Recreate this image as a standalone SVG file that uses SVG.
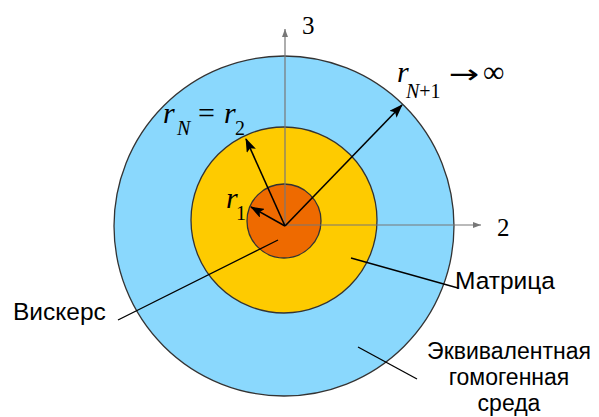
<svg xmlns="http://www.w3.org/2000/svg" width="599" height="417" viewBox="0 0 599 417">
<defs>
<marker id="ah" viewBox="0 0 14 10" refX="13" refY="5" markerWidth="14" markerHeight="10" markerUnits="userSpaceOnUse" orient="auto">
<path d="M0,0 L14,5 L0,10 L3,5 Z" fill="#000"/>
</marker>
<marker id="axh" viewBox="0 0 8 6" refX="8" refY="3" markerWidth="8" markerHeight="6" markerUnits="userSpaceOnUse" orient="auto">
<path d="M0,0 L8,3 L0,6 Z" fill="#777"/>
</marker>
<style>
.ring{stroke:#333;stroke-width:1.3}
.axis{stroke:#777;stroke-width:1.2;fill:none}
.arr{stroke:#000;stroke-width:1.6;fill:none}
.lead{stroke:#000;stroke-width:1.3;fill:none}
.lbl{font-family:"Liberation Sans",Arial,sans-serif;font-size:24.5px;fill:#000}
.lbs{font-size:23px}
.m{font-family:"Liberation Serif","Times New Roman",serif;fill:#000}
.mi{font-style:italic;font-size:30px}
.ms{font-size:20px}
</style>
</defs>
<g id="medium"><circle class="ring" cx="284" cy="226" r="170" fill="#8ad8fd"/></g>
<g id="matrix"><circle class="ring" cx="284" cy="220" r="93" fill="#fecb00"/></g>
<g id="whisker"><circle class="ring" cx="284" cy="221" r="37" fill="#ee6a00"/></g>
<g id="connectors">
<line class="axis" x1="285" y1="226" x2="285" y2="29" marker-end="url(#axh)"/>
<line class="axis" x1="285" y1="225" x2="481" y2="225" marker-end="url(#axh)"/>
<line class="arr" x1="285" y1="226" x2="251" y2="207" marker-end="url(#ah)"/>
<line class="arr" x1="285" y1="226" x2="246" y2="139" marker-end="url(#ah)"/>
<line class="arr" x1="285" y1="226" x2="402" y2="105" marker-end="url(#ah)"/>
<line class="lead" x1="118" y1="320" x2="278" y2="240"/>
<line class="lead" x1="351" y1="258" x2="458" y2="288"/>
<line class="lead" x1="358" y1="347" x2="417" y2="379"/>
</g>
<g id="labels">
<text class="m" x="302" y="34" font-size="25">3</text>
<text class="m" x="497" y="236" font-size="25">2</text>
<text class="m" x="163" y="123"><tspan class="mi">r</tspan><tspan class="mi ms" x="177" y="135">N</tspan><tspan font-size="30" x="198" y="123">=</tspan><tspan class="mi" x="224" y="123">r</tspan><tspan class="ms" x="235" y="135">2</tspan></text>
<text class="m" x="397" y="82"><tspan class="mi">r</tspan><tspan class="mi ms" x="406" y="98">N</tspan><tspan class="ms" y="98">+1</tspan></text>
<text transform="translate(449,83) scale(1.4,1)" font-family="DejaVu Sans, sans-serif" font-size="26" fill="#000">→</text>
<text class="m" x="483" y="82" font-size="30">∞</text>
<text class="m" x="226" y="208"><tspan class="mi">r</tspan><tspan class="ms" x="236" y="220">1</tspan></text>
<text class="lbl" x="13" y="320">Вискерс</text>
<text class="lbl" x="455" y="289">Матрица</text>
<text class="lbl lbs" x="509" y="359" text-anchor="middle">Эквивалентная</text>
<text class="lbl lbs" x="509" y="385" text-anchor="middle">гомогенная</text>
<text class="lbl lbs" x="509" y="411" text-anchor="middle">среда</text>
</g>
</svg>
